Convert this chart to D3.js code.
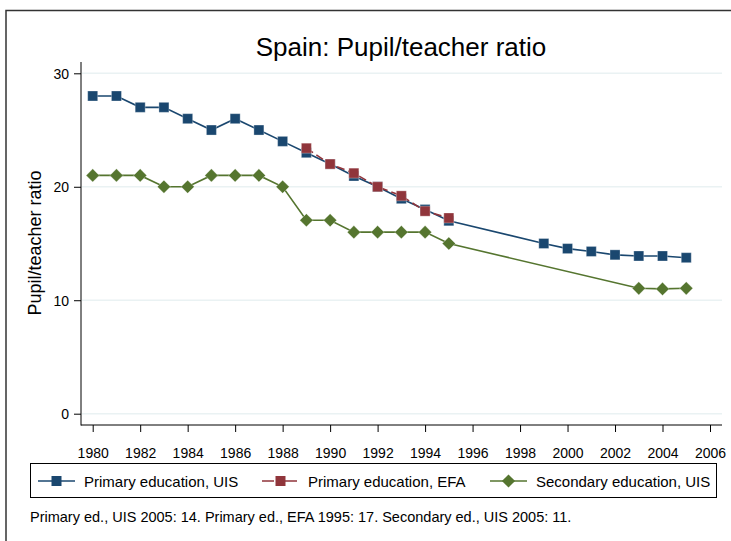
<!DOCTYPE html>
<meta charset="utf-8" />
<script src="https://d3js.org/d3.v7.min.js"></script>
<style>
  body { margin: 0; background: #fff; }
  text { font-family: "Liberation Sans", Arial, sans-serif; fill: #000; }
</style>
<svg width="731" height="541" id="chart"></svg>
<script>
// data
var primYears = [1980,1981,1982,1983,1984,1985,1986,1987,1988,1989,1990,1991,1992,1993,1994,1995,1999,2000,2001,2002,2003,2004,2005];
var primUIS   = [28,28,27,27,26,25,26,25,24,23.0,22,20.95,20,18.95,18,17.0,15.0,14.55,14.3,14.0,13.9,13.9,13.75];
var efaYears  = [1989,1990,1991,1992,1993,1994,1995];
var primEFA   = [23.4,22.0,21.2,20.0,19.2,17.85,17.25];
var secYears  = [1980,1981,1982,1983,1984,1985,1986,1987,1988,1989,1990,1991,1992,1993,1994,1995,2003,2004,2005];
var secUIS    = [21,21,21,20,20,21,21,21,20,17.05,17.05,16,16,16,16,15,11.05,11.0,11.05];
var xTicks = d3.range(1980, 2007, 2);
var yTicks = [0, 10, 20, 30];
var legendNames = ["Primary education, UIS", "Primary education, EFA", "Secondary education, UIS"];
var note = "Primary ed., UIS 2005: 14. Primary ed., EFA 1995: 17. Secondary ed., UIS 2005: 11.";

var blue = "#1a476f", red = "#90353b", green = "#55752f";

var svg = d3.select("#chart");

// outer frame (top and left edges visible)
svg.append("path")
  .attr("d", "M6,541 V10.5 H731")
  .attr("fill", "none").attr("stroke", "#333").attr("stroke-width", 1.5);

var x = d3.scaleLinear().domain([1980, 2006]).range([92.7, 710]);
var y = d3.scaleLinear().domain([0, 30]).range([413.7, 73.3]);

// gridlines
svg.append("g").selectAll("line").data(yTicks).enter().append("line")
  .attr("x1", 82).attr("x2", 722)
  .attr("y1", function(d){ return y(d); }).attr("y2", function(d){ return y(d); })
  .attr("stroke", "#eaf2f3").attr("stroke-width", 1.5);

// axes
var xAxis = svg.append("g")
  .attr("transform", "translate(0,425)")
  .call(d3.axisBottom(x).tickValues(xTicks).tickFormat(d3.format("d")).tickSize(7).tickSizeOuter(0));
var yAxis = svg.append("g")
  .attr("transform", "translate(81,0)")
  .call(d3.axisLeft(y).tickValues(yTicks).tickSize(7).tickSizeOuter(0));
[xAxis, yAxis].forEach(function(a){
  a.select(".domain").remove();
  a.selectAll("line").attr("stroke", "#000");
  a.selectAll("text").style("font-size", "14px").style("font-family", "Liberation Sans, Arial, sans-serif");
});
xAxis.selectAll("text").attr("y", 33).attr("dy", 0);
yAxis.selectAll("text").attr("x", -12).attr("dy", "0.36em");
svg.append("line").attr("x1", 81).attr("x2", 81).attr("y1", 62).attr("y2", 425.5).attr("stroke", "#000");
svg.append("line").attr("x1", 81).attr("x2", 722).attr("y1", 425).attr("y2", 425).attr("stroke", "#000");

// title + axis title
svg.append("text").attr("x", 401).attr("y", 56).attr("text-anchor", "middle")
  .style("font-size", "26px").text("Spain: Pupil/teacher ratio");
svg.append("text").attr("text-anchor", "middle")
  .attr("transform", "translate(41,243)rotate(-90)")
  .style("font-size", "18px").text("Pupil/teacher ratio");

function pts(xs, ys) { return xs.map(function(d, i){ return [d, ys[i]]; }); }
var line = d3.line().x(function(d){ return x(d[0]); }).y(function(d){ return y(d[1]); });

var diamond = d3.symbol().type(d3.symbolDiamond2).size(110);

function drawSeries(data, color, dash, shape) {
  var g = svg.append("g");
  g.append("path").datum(data).attr("d", line)
    .attr("fill", "none").attr("stroke", color).attr("stroke-width", 1.6)
    .attr("stroke-dasharray", dash);
  g.selectAll("m").data(data).enter().append("path")
    .attr("transform", function(d){ return "translate(" + x(d[0]) + "," + y(d[1]) + ")"; })
    .attr("d", shape === "square" ? "M-5,-5H5V5H-5Z" : diamond())
    .attr("fill", color).attr("stroke", "#fff").attr("stroke-width", 0.5).attr("stroke-opacity", 0.6);
}
drawSeries(pts(secYears, secUIS), green, null, "diamond");
drawSeries(pts(primYears, primUIS), blue, null, "square");
drawSeries(pts(efaYears, primEFA), red, "8,4", "square");

// legend
svg.append("rect").attr("x", 30.5).attr("y", 463.5).attr("width", 686).attr("height", 34)
  .attr("fill", "#fff").attr("stroke", "#000");
var legX = [38, 262, 490];
var legColors = [blue, red, green];
var legShapes = ["square", "square", "diamond"];
legendNames.forEach(function(name, i){
  var g = svg.append("g").attr("transform", "translate(" + legX[i] + ",481)");
  g.append("line").attr("x1", 0).attr("x2", 37).attr("stroke", legColors[i]).attr("stroke-width", 1.6)
    .attr("stroke-dasharray", i === 1 ? "12,4,3,4" : null);
  g.append("path").attr("transform", "translate(18.5,0)")
    .attr("d", legShapes[i] === "square" ? "M-5,-5H5V5H-5Z" : diamond())
    .attr("fill", legColors[i]);
  g.append("text").attr("x", 46).attr("y", 5.5).style("font-size", "15px").text(name);
});

svg.append("text").attr("x", 30).attr("y", 522).style("font-size", "14.5px").text(note);
</script>
